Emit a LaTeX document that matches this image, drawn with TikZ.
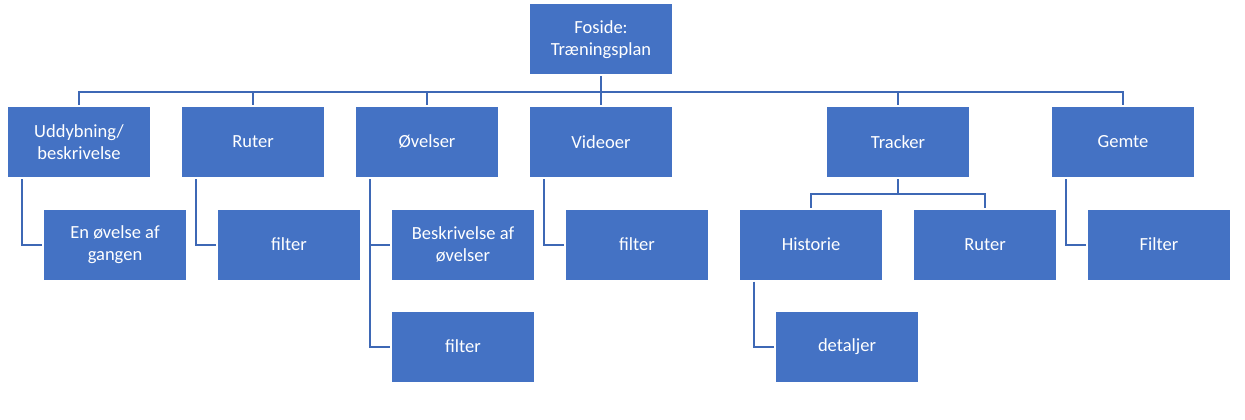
\documentclass[tikz,border=0pt]{standalone}
\usepackage{fontspec}
\setmainfont{Carlito}
\usetikzlibrary{arrows}
\definecolor{boxblue}{HTML}{4472C4}
\definecolor{lineblue}{HTML}{3E68B5}

\begin{document}
\begin{tikzpicture}[x=1pt,y=-1pt,
  box/.style={fill=boxblue, text=white, minimum width=142pt, minimum height=70pt,
    inner sep=2pt, outer sep=2pt, align=center, font=\fontsize{18.5}{22}\selectfont},
  link/.style={draw=lineblue, line width=2pt}]
\useasboundingbox (0,0) rectangle (1245,420);
\node[box] (foside) at (601,39.5) {Foside:\\Træningsplan};
\node[box] (uddyb) at (79,142) {Uddybning/\\beskrivelse};
\node[box] (ruter) at (253,142) {Ruter};
\node[box] (oevelser) at (427,142) {Øvelser};
\node[box] (videoer) at (601,142) {Videoer};
\node[box] (tracker) at (898,142) {Tracker};
\node[box] (gemte) at (1123,142) {Gemte};
\node[box] (engang) at (115,244.5) {En øvelse af\\gangen};
\node[box] (rutfilter) at (289,244.5) {filter};
\node[box] (beskriv) at (463,244.5) {Beskrivelse af\\øvelser};
\node[box] (oevfilter) at (463,346.5) {filter};
\node[box] (vidfilter) at (637,244.5) {filter};
\node[box] (historie) at (811,244.5) {Historie};
\node[box] (trruter) at (985,244.5) {Ruter};
\node[box] (gemfilter) at (1159,244.5) {Filter};
\node[box] (detaljer) at (847,346.5) {detaljer};
% top level
\foreach \n in {uddyb,ruter,oevelser,videoer,tracker,gemte}
  \draw[link] (foside.south) -- ++(0,15) -| (\n.north);
\foreach \n in {historie,trruter}
  \draw[link] (tracker.south) -- ++(0,15) -| (\n.north);
% side children
\draw[link] (uddyb.south west) ++(15.5,0) |- (engang.west);
\draw[link] (ruter.south west) ++(15.5,0) |- (rutfilter.west);
\draw[link] (oevelser.south west) ++(15.5,0) |- (beskriv.west);
\draw[link] (oevelser.south west) ++(15.5,0) |- (oevfilter.west);
\draw[link] (videoer.south west) ++(15.5,0) |- (vidfilter.west);
\draw[link] (historie.south west) ++(15.5,0) |- (detaljer.west);
\draw[link] (gemte.south west) ++(15.5,0) |- (gemfilter.west);
\end{tikzpicture}
\end{document}
